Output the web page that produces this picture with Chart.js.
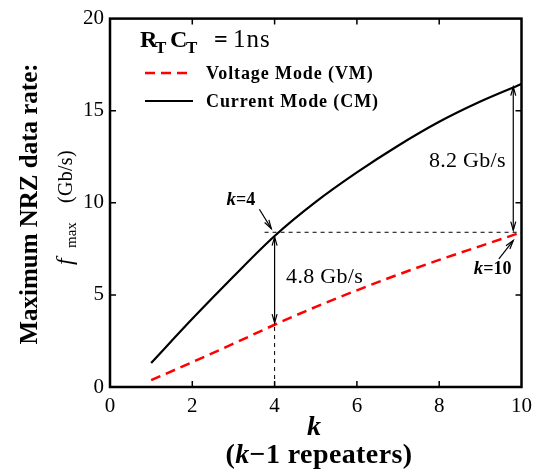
<!DOCTYPE html>
<html>
<head>
<meta charset="utf-8">
<script src="https://cdn.jsdelivr.net/npm/chart.js@4.4.1/dist/chart.umd.min.js"></script>
<style>
  html, body { margin: 0; padding: 0; background: #fff; }
  #wrap { width: 539px; height: 474px; }
</style>
</head>
<body>
<div id="wrap"><canvas id="rateChart" width="539" height="474"></canvas></div>
<script>
const kValues = [1, 2, 3, 4, 5, 6, 7, 8, 9, 10];
const cmRate = [1.3, 3.7, 6.0, 8.2, 10.05, 11.65, 13.1, 14.4, 15.5, 16.45];
const vmRate = [0.37, 1.35, 2.35, 3.38, 4.35, 5.25, 6.1, 6.9, 7.65, 8.4];
const xTicks = [0, 2, 4, 6, 8, 10];
const yTicks = [0, 5, 10, 15, 20];

const SERIF = '"Liberation Serif", "Times New Roman", serif';

function toPoints(xs, ys) {
  return xs.map((k, i) => ({ x: k, y: ys[i] }));
}

// draw text pieces with their own fonts, left to right (or at fixed offsets)
function drawRuns(ctx, runs, x, y, align) {
  let total = 0;
  runs.forEach(r => { ctx.font = r.font; total += ctx.measureText(r.text).width; });
  const start = align === 'center' ? x - total / 2 : x;
  let cx = start;
  runs.forEach(r => {
    ctx.font = r.font;
    ctx.letterSpacing = r.ls || '0px';
    if (r.at !== undefined) cx = start + r.at;
    ctx.fillText(r.text, cx, y + (r.dy || 0));
    cx += ctx.measureText(r.text).width;
  });
  ctx.letterSpacing = '0px';
}

function arrowHead(ctx, x1, y1, x2, y2) {
  const ang = Math.atan2(y2 - y1, x2 - x1);
  const len = 9, half = 0.28;
  ctx.beginPath();
  ctx.moveTo(x2 - len * Math.cos(ang - half), y2 - len * Math.sin(ang - half));
  ctx.lineTo(x2, y2);
  ctx.lineTo(x2 - len * Math.cos(ang + half), y2 - len * Math.sin(ang + half));
  ctx.stroke();
}

function drawArrow(ctx, x1, y1, x2, y2, both) {
  ctx.beginPath();
  ctx.moveTo(x1, y1);
  ctx.lineTo(x2, y2);
  ctx.stroke();
  arrowHead(ctx, x1, y1, x2, y2);
  if (both) arrowHead(ctx, x2, y2, x1, y1);
}

const decorPlugin = {
  id: 'decor',
  afterDraw(chart) {
    const { ctx, chartArea: a, scales } = chart;
    const px = v => scales.x.getPixelForValue(v);
    const py = v => scales.y.getPixelForValue(v);
    const vm = chart.data.datasets[0];
    const cm = chart.data.datasets[1];

    ctx.save();
    ctx.strokeStyle = '#000';
    ctx.fillStyle = '#000';

    // guide lines
    ctx.lineWidth = 1;
    ctx.setLineDash([4, 4]);
    ctx.beginPath();
    ctx.moveTo(px(kValues[3]) - 10, py(vmRate[9]));
    ctx.lineTo(px(kValues[9]), py(vmRate[9]));
    ctx.moveTo(px(kValues[3]), py(0));
    ctx.lineTo(px(kValues[3]), py(vmRate[3]));
    ctx.stroke();
    ctx.setLineDash([]);

    // difference arrows
    ctx.lineWidth = 1.2;
    drawArrow(ctx, px(4), py(cmRate[3]) + 1, px(4), py(vmRate[3]) - 2, true);
    drawArrow(ctx, px(9.8), py(cmRate[9]) + 3, px(9.8), py(vmRate[9]) - 2, true);

    // point labels with pointers
    drawArrow(ctx, px(3.63), py(9.65), px(3.92), py(8.6), false);
    drawArrow(ctx, px(9.45), py(6.95), px(9.8), py(7.95), false);

    ctx.textBaseline = 'alphabetic';
    drawRuns(ctx, [
      { text: 'k', font: 'italic bold 19px ' + SERIF },
      { text: '=4', font: 'bold 18px ' + SERIF }
    ], px(2.83), py(9.9), 'left');
    drawRuns(ctx, [
      { text: 'k', font: 'italic bold 19px ' + SERIF },
      { text: '=10', font: 'bold 18px ' + SERIF }
    ], px(8.84), py(6.15), 'left');

    drawRuns(ctx, [{ text: '4.8 Gb/s', font: '22px ' + SERIF, ls: '0.3px' }], px(4.28), py(5.67), 'left');
    drawRuns(ctx, [{ text: '8.2 Gb/s', font: '22px ' + SERIF, ls: '0.3px' }], px(7.75), py(11.95), 'left');

    // legend block
    drawRuns(ctx, [
      { text: 'R', font: 'bold 24px ' + SERIF, at: 0 },
      { text: 'T', font: 'bold 17px ' + SERIF, dy: 6, at: 15 },
      { text: 'C', font: 'bold 24px ' + SERIF, at: 30 },
      { text: 'T', font: 'bold 17px ' + SERIF, dy: 6, at: 46 },
      { text: '=', font: 'bold 24px ' + SERIF, at: 74 },
      { text: '1ns', font: '25px ' + SERIF, at: 93, ls: '1px' }
    ], 140, 47, 'left');

    [[vm, 73], [cm, 101]].forEach(([ds, ly]) => {
      ctx.save();
      ctx.strokeStyle = ds.borderColor;
      ctx.lineWidth = ds.borderWidth;
      ctx.setLineDash(ds.borderDash || []);
      ctx.beginPath();
      ctx.moveTo(145, ly);
      ctx.lineTo(193, ly);
      ctx.stroke();
      ctx.restore();
      drawRuns(ctx, [{ text: ds.label, font: 'bold 18px ' + SERIF, ls: '0.9px' }], 206, ly + 6, 'left');
    });

    // frame and inward ticks
    ctx.lineWidth = 2.5;
    ctx.strokeRect(a.left, a.top, a.right - a.left, a.bottom - a.top);
    ctx.lineWidth = 1.5;
    ctx.beginPath();
    xTicks.slice(1, -1).forEach(v => {
      ctx.moveTo(px(v), a.bottom); ctx.lineTo(px(v), a.bottom - 6);
      ctx.moveTo(px(v), a.top); ctx.lineTo(px(v), a.top + 6);
    });
    yTicks.slice(1, -1).forEach(v => {
      ctx.moveTo(a.left, py(v)); ctx.lineTo(a.left + 6, py(v));
      ctx.moveTo(a.right, py(v)); ctx.lineTo(a.right - 6, py(v));
    });
    ctx.stroke();

    // x axis title
    drawRuns(ctx, [{ text: 'k', font: 'italic bold 28px ' + SERIF }], 314, 435, 'center');
    drawRuns(ctx, [
      { text: '(', font: 'bold 28px ' + SERIF, ls: '0.4px' },
      { text: 'k', font: 'italic bold 28px ' + SERIF, ls: '0.4px' },
      { text: '\u22121 repeaters)', font: 'bold 28px ' + SERIF, ls: '0.4px' }
    ], 316, 463, 'center');

    // y axis title
    ctx.save();
    ctx.translate(37, 204);
    ctx.rotate(-Math.PI / 2);
    drawRuns(ctx, [{ text: 'Maximum NRZ data rate:', font: 'bold 25px ' + SERIF }], 0, 0, 'center');
    ctx.restore();
    ctx.save();
    ctx.translate(72, 268);
    ctx.rotate(-Math.PI / 2);
    drawRuns(ctx, [
      { text: 'f', font: 'italic 24px ' + SERIF, at: 3 },
      { text: 'max', font: '15px ' + SERIF, dy: 4, at: 20 },
      { text: '(Gb/s)', font: '20px ' + SERIF, at: 65, ls: '0.3px' }
    ], 0, 0, 'left');
    ctx.restore();

    ctx.restore();
  }
};

new Chart(document.getElementById('rateChart').getContext('2d'), {
  type: 'line',
  data: {
    datasets: [{
      label: 'Voltage Mode (VM)',
      data: toPoints(kValues, vmRate),
      borderColor: '#ff0000',
      borderWidth: 2.5,
      borderDash: [10, 6],
      pointRadius: 0,
      fill: false,
      cubicInterpolationMode: 'monotone'
    }, {
      label: 'Current Mode (CM)',
      data: toPoints(kValues, cmRate),
      borderColor: '#000000',
      borderWidth: 2.2,
      pointRadius: 0,
      fill: false,
      cubicInterpolationMode: 'monotone'
    }]
  },
  options: {
    responsive: false,
    animation: false,
    layout: { padding: { top: 10, right: 16, left: 0, bottom: 0 } },
    plugins: { legend: { display: false }, tooltip: { enabled: false } },
    scales: {
      x: {
        type: 'linear',
        min: 0,
        max: 10,
        afterFit: s => { s.height = 87; },
        afterBuildTicks: s => { s.ticks = xTicks.map(v => ({ value: v })); },
        grid: { display: false, drawTicks: false },
        border: { display: false },
        ticks: { color: '#000', padding: 7, maxRotation: 0, autoSkip: false, font: { family: SERIF, size: 21 } }
      },
      y: {
        type: 'linear',
        min: 0,
        max: 20,
        afterFit: s => { s.width = 110; },
        afterBuildTicks: s => { s.ticks = yTicks.map(v => ({ value: v })); },
        grid: { display: false, drawTicks: false },
        border: { display: false },
        ticks: { color: '#000', padding: 6, font: { family: SERIF, size: 21 } }
      }
    }
  },
  plugins: [decorPlugin]
});
</script>
</body>
</html>
